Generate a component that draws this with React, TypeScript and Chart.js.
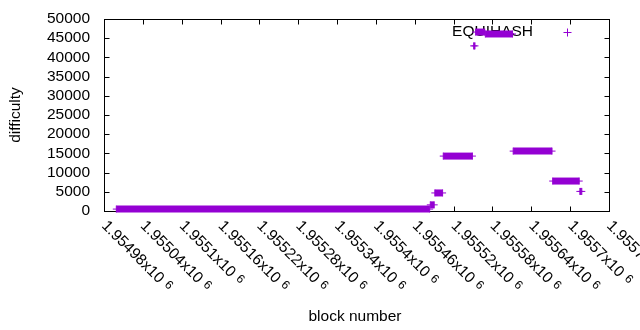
import React, { useEffect, useRef } from "react";
import { Chart, registerables } from "chart.js";

Chart.register(...registerables);

// Runs of blocks with (nearly) constant difficulty: first block, last block, difficulty
const segStart = [1954999, 1955484, 1955491, 1955504, 1955551, 1955554, 1955569, 1955612, 1955673, 1955715];
const segEnd = [1955483, 1955490, 1955503, 1955549, 1955553, 1955568, 1955611, 1955672, 1955714, 1955718];
const segDifficulty = [500, 1600, 4700, 14300, 43000, 46600, 46100, 15600, 7800, 5100];

const xTickValues = [1954980, 1955040, 1955100, 1955160, 1955220, 1955280, 1955340, 1955400, 1955460, 1955520, 1955580, 1955640, 1955700, 1955760];
const xTickLabels = ["1.95498x10", "1.95504x10", "1.9551x10", "1.95516x10", "1.95522x10", "1.95528x10", "1.95534x10", "1.9554x10", "1.95546x10", "1.95552x10", "1.95558x10", "1.95564x10", "1.9557x10", "1.95576x10"];
const xTickExponent = "6";
const yTickValues = [0, 5000, 10000, 15000, 20000, 25000, 30000, 35000, 40000, 45000, 50000];

const seriesName = "EQUIHASH";
const xTitle = "block number";
const yTitle = "difficulty";

const PURPLE = "#9400d3";
const FONT = '"Liberation Sans", Arial, sans-serif';

const framePlugin = {
  id: "gnuplotFrame",
  beforeDatasetsDraw(chart: any) {
    const { ctx, chartArea: a, scales } = chart;
    const xs = scales.x;
    const ys = scales.y;
    ctx.save();
    ctx.strokeStyle = "#000";
    ctx.lineWidth = 1;
    const L = Math.round(a.left) + 0.5;
    const R = Math.round(a.right) + 0.5;
    const T = Math.round(a.top) + 0.5;
    const B = Math.round(a.bottom) + 0.5;
    ctx.strokeRect(L, T, R - L, B - T);
    ctx.beginPath();
    yTickValues.forEach((v) => {
      const py = Math.round(ys.getPixelForValue(v)) + 0.5;
      ctx.moveTo(L, py);
      ctx.lineTo(L + 5, py);
      ctx.moveTo(R, py);
      ctx.lineTo(R - 5, py);
    });
    xTickValues.forEach((v) => {
      const px = Math.round(xs.getPixelForValue(v)) + 0.5;
      ctx.moveTo(px, B);
      ctx.lineTo(px, B - 5);
      ctx.moveTo(px, T);
      ctx.lineTo(px, T + 5);
    });
    ctx.stroke();

    ctx.fillStyle = "#000";
    ctx.font = `15.5px ${FONT}`;
    ctx.textAlign = "right";
    ctx.textBaseline = "middle";
    yTickValues.forEach((v) => {
      ctx.fillText(String(v), 90, ys.getPixelForValue(v));
    });

    xTickValues.forEach((v, i) => {
      const px = xs.getPixelForValue(v);
      ctx.save();
      ctx.translate(px, B + 12);
      ctx.rotate(Math.PI / 4);
      ctx.font = `15.5px ${FONT}`;
      ctx.textAlign = "left";
      ctx.textBaseline = "middle";
      const label = xTickLabels[i];
      ctx.fillText(label, 0, 0);
      const w = ctx.measureText(label).width;
      ctx.font = `12px ${FONT}`;
      ctx.fillText(xTickExponent, w + 5, -2);
      ctx.restore();
    });

    ctx.font = `15.5px ${FONT}`;
    ctx.textAlign = "center";
    ctx.textBaseline = "alphabetic";
    ctx.fillText(xTitle, 355, 321);

    ctx.save();
    ctx.translate(16, 115);
    ctx.rotate(-Math.PI / 2);
    ctx.textBaseline = "middle";
    ctx.fillText(yTitle, 0, 0);
    ctx.restore();

    // key
    ctx.textAlign = "right";
    ctx.textBaseline = "middle";
    ctx.fillText(seriesName, 533, 32);
    ctx.strokeStyle = PURPLE;
    ctx.beginPath();
    ctx.moveTo(563.5, 32.5);
    ctx.lineTo(571.5, 32.5);
    ctx.moveTo(567.5, 28.5);
    ctx.lineTo(567.5, 36.5);
    ctx.stroke();
    ctx.restore();
  },
};

export default function App() {
  const ref = useRef<HTMLCanvasElement | null>(null);
  useEffect(() => {
    if (!ref.current) return;
    const datasets = segStart.map((s, i) => ({
      label: seriesName,
      data: [
        { x: s, y: segDifficulty[i] },
        { x: segEnd[i], y: segDifficulty[i] },
      ],
      showLine: true,
      borderColor: PURPLE,
      backgroundColor: PURPLE,
      borderWidth: 7,
      borderCapStyle: "butt" as const,
      pointStyle: "cross" as const,
      pointRadius: 3.5,
      pointBorderWidth: 1,
      pointBorderColor: PURPLE,
      clip: false as any,
    }));
    const chart = new Chart(ref.current, {
      type: "scatter",
      data: { datasets },
      options: {
        responsive: false,
        animation: false,
        events: [],
        layout: { padding: { left: 0, top: 19, right: 31, bottom: 0 } },
        plugins: { legend: { display: false }, tooltip: { enabled: false } },
        scales: {
          x: {
            type: "linear",
            min: 1954980,
            max: 1955760,
            grid: { display: false },
            border: { display: false },
            ticks: { display: false },
            afterFit: (s: any) => {
              s.height = 119;
            },
          },
          y: {
            type: "linear",
            min: 0,
            max: 50000,
            grid: { display: false },
            border: { display: false },
            ticks: { display: false },
            afterFit: (s: any) => {
              s.width = 104;
            },
          },
        },
      },
      plugins: [framePlugin],
    });
    return () => chart.destroy();
  }, []);
  return (
    <div style={{ position: "fixed", left: 0, top: 0, width: 640, height: 330, background: "#fff" }}>
      <canvas ref={ref} width={640} height={330} />
    </div>
  );
}
